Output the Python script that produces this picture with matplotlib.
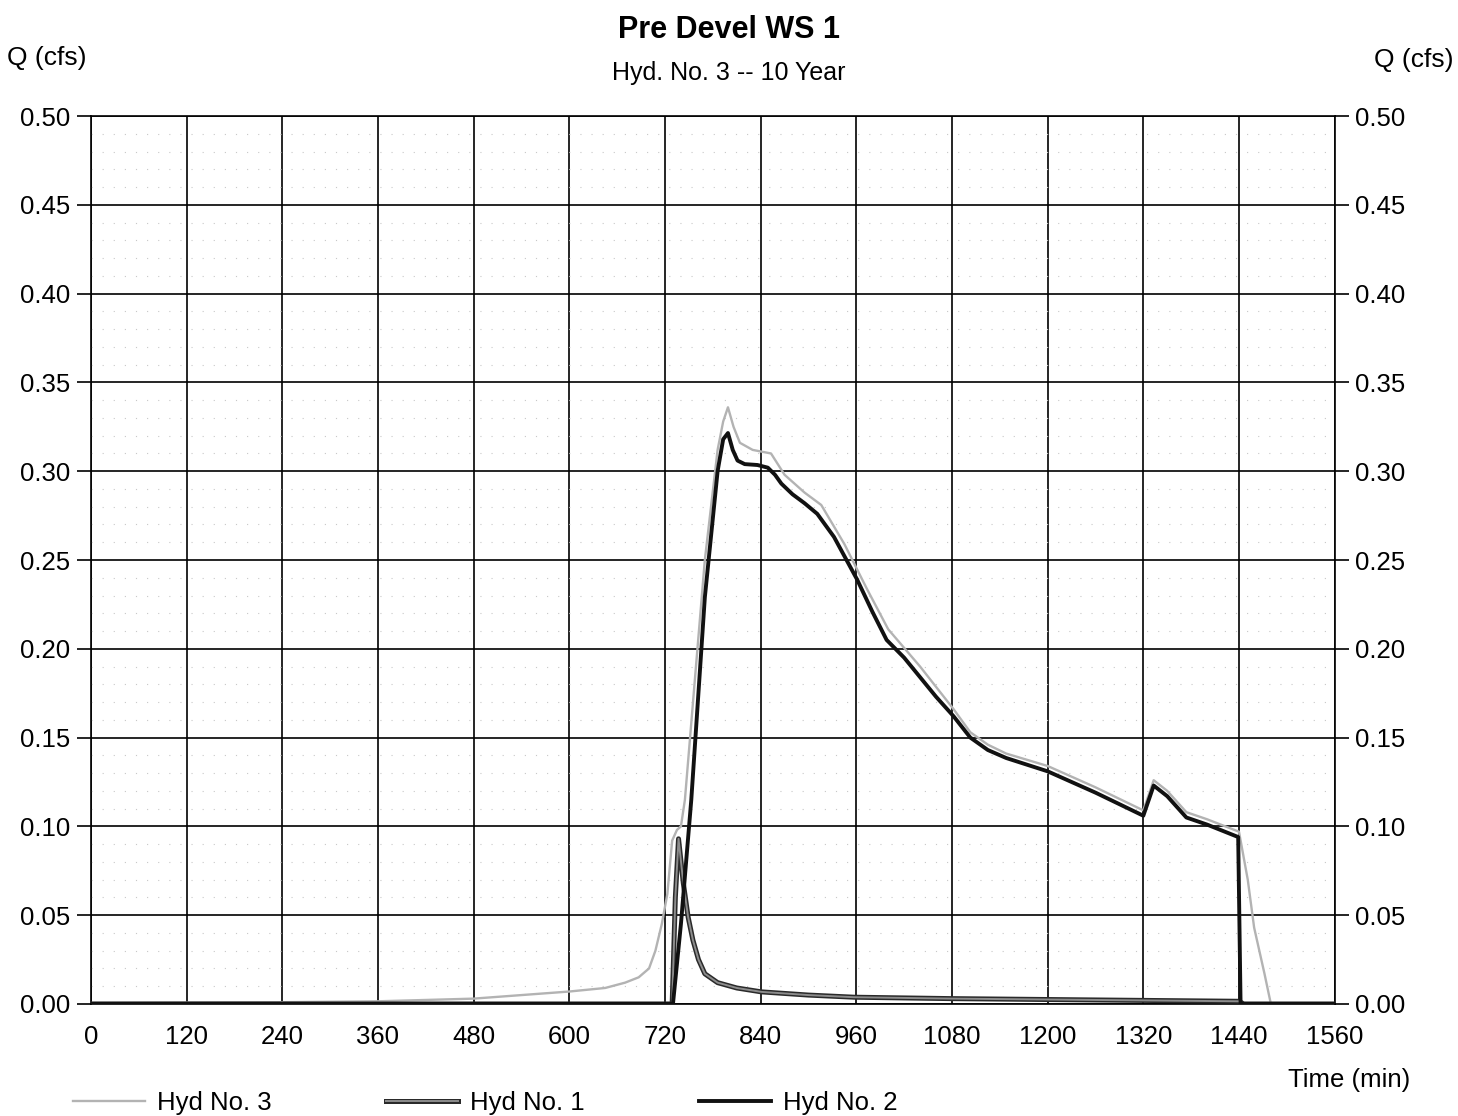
import matplotlib.pyplot as plt
import matplotlib.patheffects as pe
import numpy as np

plt.rcParams['font.family'] = ['Liberation Sans', 'DejaVu Sans']

# Hyd No. 3 (combined, light grey)
t3 = [0, 120, 240, 360, 480, 540, 600, 645, 670, 687, 700, 708, 716, 723, 729, 735,
      740, 745, 757, 770, 786, 793, 799, 806, 814, 830, 853, 870, 895, 916, 945, 973,
      1000, 1040, 1082, 1103, 1125, 1148, 1200, 1260, 1320, 1333, 1350, 1374, 1400,
      1440, 1451, 1459, 1472, 1480, 1560]
q3 = [0.0005, 0.0008, 0.001, 0.0015, 0.003, 0.005, 0.007, 0.009, 0.012, 0.015, 0.02,
      0.030, 0.045, 0.062, 0.092, 0.098, 0.10, 0.115, 0.18, 0.25, 0.312, 0.328, 0.336,
      0.325, 0.316, 0.312, 0.310, 0.298, 0.288, 0.281, 0.259, 0.234, 0.211, 0.190,
      0.166, 0.153, 0.146, 0.141, 0.134, 0.122, 0.109, 0.126, 0.120, 0.108, 0.104,
      0.097, 0.070, 0.043, 0.017, 0.0, 0.0]

# Hyd No. 1 (small early peak)
t1 = [0, 729, 733, 737, 743, 749, 755, 762, 770, 786, 810, 841, 900, 957, 1080, 1200,
      1320, 1440, 1446, 1560]
q1 = [0, 0, 0.06, 0.093, 0.068, 0.049, 0.036, 0.025, 0.017, 0.012, 0.009, 0.0068,
      0.005, 0.0038, 0.003, 0.0025, 0.002, 0.0015, 0, 0]

# Hyd No. 2 (main hydrograph)
t2 = [0, 730, 740, 753, 770, 786, 793, 799, 805, 811, 820, 836, 849, 858, 866, 880,
      895, 911, 932, 961, 980, 998, 1020, 1040, 1060, 1082, 1103, 1125, 1148, 1200,
      1260, 1320, 1333, 1350, 1374, 1400, 1439, 1442, 1560]
q2 = [0, 0, 0.045, 0.115, 0.229, 0.30, 0.318, 0.3215, 0.312, 0.306, 0.304, 0.3035,
      0.302, 0.298, 0.293, 0.287, 0.282, 0.276, 0.263, 0.239, 0.221, 0.205, 0.195,
      0.184, 0.173, 0.162, 0.150, 0.143, 0.1385, 0.131, 0.119, 0.106, 0.123, 0.117,
      0.105, 0.101, 0.094, 0.0, 0.0]

xticks = np.arange(0, 1561, 120)
yticks = np.arange(0, 0.501, 0.05)

fig = plt.figure(figsize=(14.58, 11.16), dpi=100)
ax = fig.add_axes([0.0624, 0.1004, 0.853, 0.7956])

l3, = ax.plot(t3, q3, color='#b3b3b3', lw=1.7, label='Hyd No. 3', zorder=3)
l1, = ax.plot(t1, q1, color='#8c8c8c', lw=1.4, label='Hyd No. 1', zorder=4,
              path_effects=[pe.Stroke(linewidth=3.6, foreground='#2a2a2a'), pe.Normal()])
l2, = ax.plot(t2, q2, color='#111111', lw=2.8, label='Hyd No. 2', zorder=5)

ax.set_xlim(0, 1560)
ax.set_ylim(0, 0.5)
ax.set_xticks(xticks)
ax.set_yticks(yticks)
ax.set_yticks(np.arange(0, 0.501, 0.01), minor=True)
ax.set_yticklabels([f'{v:.2f}' for v in yticks])
ax.grid(True, which='major', color='black', lw=1.2)
ax.grid(True, which='minor', axis='y', color='#c8c8c8', lw=0.8, linestyle=(0, (1, 9)))
ax.tick_params(axis='x', length=0, pad=15, labelsize=18.5)
ax.tick_params(axis='y', which='major', length=10, width=1.2, labelsize=18.5,
               left=True, right=True, labelleft=True, labelright=True, pad=5)
ax.tick_params(axis='y', which='minor', length=0)
for s in ax.spines.values():
    s.set_linewidth(1.2)

fig.text(0.5, 0.973, 'Pre Devel WS 1', ha='center', va='center', fontsize=22, fontweight='bold')
fig.text(0.5, 0.935, 'Hyd. No. 3 -- 10 Year', ha='center', va='center', fontsize=18)
fig.text(0.005, 0.948, 'Q (cfs)', ha='left', va='center', fontsize=19)
fig.text(0.997, 0.946, 'Q (cfs)', ha='right', va='center', fontsize=19)
fig.text(0.967, 0.032, 'Time (min)', ha='right', va='center', fontsize=18.5)

fig.legend(handles=[l3, l1, l2], loc='center left', bbox_to_anchor=(0.050, 0.012),
           ncol=3, frameon=False, fontsize=18.5, handlelength=2.8, handletextpad=0.47,
           columnspacing=4.45, borderpad=0, borderaxespad=0)

fig.savefig('out.png', dpi=100)
